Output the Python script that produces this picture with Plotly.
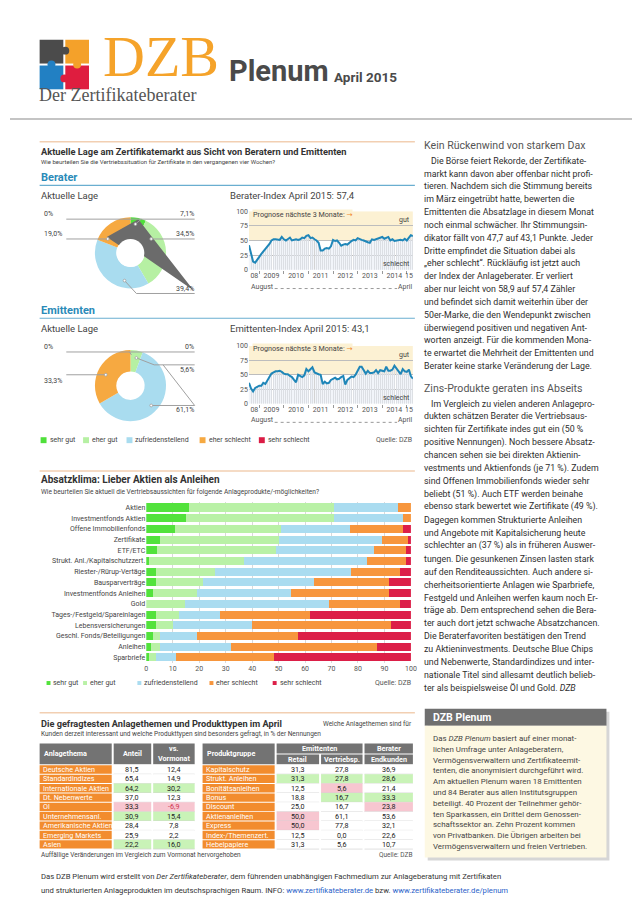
import plotly.graph_objects as go
import pandas as pd

W, H = 640, 906
SANS = "Roboto, 'Open Sans', 'DejaVu Sans', sans-serif"
SERIF = "'Liberation Serif', 'DejaVu Serif', serif"

# ---------------- data ----------------
lage_labels = ["sehr gut", "eher gut", "zufriedenstellend", "eher schlecht", "sehr schlecht"]
lage_colors = ["#4fe03a", "#b6f0a3", "#a9dcef", "#f6a941", "#db1c45"]
berater_lage = [7.1, 34.5, 39.4, 19.0, 0.0]
emittenten_lage = [0.0, 5.6, 61.1, 33.3, 0.0]

index_months = pd.date_range("2008-08-01", "2015-04-01", freq="MS")
berater_index = [42, 28, 14, 12, 16,
                 22, 27, 31, 35, 38, 44, 50, 52, 52, 52, 51, 56,
                 52, 50, 53, 55, 50, 51, 52, 51, 52, 55, 54, 58,
                 59, 54, 55, 52, 50, 46, 33, 33, 36, 37, 36, 40,
                 51, 49, 50, 46, 41, 43, 44, 43, 47, 49, 51, 50,
                 54, 52, 51, 50, 48, 47, 46, 52, 51, 52, 53, 54,
                 56, 53, 55, 56, 50, 52, 49, 50, 50, 51, 50, 53,
                 50, 55, 58.9, 57.4]
emittenten_index = [36, 26, 21, 27, 29,
                    31, 31, 36, 34, 40, 47, 52, 54, 56, 56, 57, 55,
                    52, 51, 51, 48, 46, 41, 37, 50, 48, 46, 49, 60,
                    56, 60, 63, 54, 52, 51, 50, 34, 38, 35, 36, 41,
                    43, 45, 42, 43, 46, 48, 33, 41, 44, 47, 46, 50,
                    57, 64, 64, 57, 52, 57, 53, 53, 54, 58, 53, 58,
                    57, 56, 64, 57, 57, 59, 66, 60, 56, 51, 60, 56,
                    55, 59, 47.7, 43.1]
year_tick_dates = ["2008-10-20", "2009-07-01", "2010-07-01", "2011-07-01",
                   "2012-07-01", "2013-07-01", "2014-07-01", "2015-02-01"]
year_tick_labels = ["08", "2009", "2010", "2011", "2012", "2013", "2014", "15"]
year_bounds = ["2009-01-01", "2010-01-01", "2011-01-01", "2012-01-01",
               "2013-01-01", "2014-01-01", "2015-01-01"]

absatz_kategorien = ["Aktien", "Investmentfonds Aktien", "Offene Immobilienfonds", "Zertifikate",
                     "ETF/ETC", "Strukt. Anl./Kapitalschutzzert.", "Riester-/Rürup-Vertäge",
                     "Bausparverträge", "Investmentfonds Anleihen", "Gold",
                     "Tages-/Festgeld/Spareinlagen", "Lebensversicherungen",
                     "Geschl. Fonds/Beteiligungen", "Anleihen", "Sparbriefe"]
absatz_sehr_gut = [16, 15, 11, 5, 4, 1.2, 3.7, 3.7, 2.5, 0.0, 3.7, 3.7, 2.5, 1.6, 1.0]
absatz_eher_gut = [55, 56, 40, 45, 45, 35.8, 22.1, 17.7, 16.5, 14.5, 8.5, 6.5, 2.8, 3.7, 2.7]
absatz_zufrieden = [24, 26, 26, 39, 37, 46.4, 51.5, 42.0, 35.7, 54.5, 15.8, 29.6, 13.7, 26.6, 7.5]
absatz_eher_schlecht = [5, 3, 20, 10, 12, 14.9, 18.7, 28.5, 37.2, 27.0, 33.9, 52.5, 38.5, 55.3, 36.9]
absatz_sehr_schlecht = [0, 0, 3, 1, 2, 1.7, 4.0, 8.1, 8.1, 4.0, 38.1, 7.7, 42.5, 12.8, 51.9]
bar_colors = ["#52e23c", "#b9f1a6", "#aadcf0", "#f7963d", "#dc1f48"]

themen = ["Deutsche Aktien", "Standardindizes", "Internationale Aktien", "Dt. Nebenwerte", "Öl",
          "Unternehmensanl.", "Amerikanische Aktien", "Emerging Markets", "Asien"]
themen_anteil = [81.5, 65.4, 64.2, 37.0, 33.3, 30.9, 28.4, 25.9, 22.2]
themen_vs_vormonat = [12.4, 14.9, 30.2, 12.3, -6.9, 15.4, 7.8, 2.2, 16.0]
themen_auffaellig = [0, 0, 1, 0, -1, 1, 0, 0, 1]

produkte = ["Kapitalschutz", "Strukt. Anleihen", "Bonitätsanleihen", "Bonus", "Discount",
            "Aktienanleihen", "Express", "Index-/Themenzert.", "Hebelpapiere"]
emi_retail = [31.3, 31.3, 12.5, 18.8, 25.0, 50.0, 50.0, 12.5, 31.3]
emi_vertrieb = [27.8, 27.8, 5.6, 16.7, 16.7, 61.1, 77.8, 0.0, 5.6]
ber_endkunden = [36.9, 28.6, 21.4, 33.3, 23.8, 53.6, 32.1, 22.6, 10.7]
retail_auffaellig = [0, 1, 0, 0, 0, -1, -1, 0, 0]
vertrieb_auffaellig = [0, 1, -1, 1, 0, 0, 0, 0, 0]
endkunden_auffaellig = [0, 1, 0, 1, -1, 0, 0, 0, 0]

heading1 = "Kein Rückenwind von starkem Dax"
para1 = [
    "Die Börse feiert Rekorde, der Zertifikate-",
    "markt kann davon aber offenbar nicht profi-",
    "tieren. Nachdem sich die Stimmung bereits",
    "im März eingetrübt hatte, bewerten die",
    "Emittenten die Absatzlage in diesem Monat",
    "noch einmal schwächer. Ihr Stimmungsin-",
    "dikator fällt von 47,7 auf 43,1 Punkte. Jeder",
    "Dritte empfindet die Situation dabei als",
    "„eher schlecht“. Rückläufig ist jetzt auch",
    "der Index der Anlageberater. Er verliert",
    "aber nur leicht von 58,9 auf 57,4 Zähler",
    "und befindet sich damit weiterhin über der",
    "50er-Marke, die den Wendepunkt zwischen",
    "überwiegend positiven und negativen Ant-",
    "worten anzeigt. Für die kommenden Mona-",
    "te erwartet die Mehrheit der Emittenten und",
    "Berater keine starke Veränderung der Lage.",
]
heading2 = "Zins-Produkte geraten ins Abseits"
para2 = [
    "Im Vergleich zu vielen anderen Anlagepro-",
    "dukten schätzen Berater die Vertriebsaus-",
    "sichten für Zertifikate indes gut ein (50 %",
    "positive Nennungen). Noch bessere Absatz-",
    "chancen sehen sie bei direkten Aktienin-",
    "vestments und Aktienfonds (je 71 %). Zudem",
    "sind Offenen Immobilienfonds wieder sehr",
    "beliebt (51 %). Auch ETF werden beinahe",
    "ebenso stark bewertet wie Zertifikate (49 %).",
    "Dagegen kommen Strukturierte Anleihen",
    "und Angebote mit Kapitalsicherung heute",
    "schlechter an (37 %) als in früheren Auswer-",
    "tungen. Die gesunkenen Zinsen lasten stark",
    "auf den Renditeaussichten. Auch andere si-",
    "cherheitsorientierte Anlagen wie Sparbriefe,",
    "Festgeld und Anleihen werfen kaum noch Er-",
    "träge ab. Dem entsprechend sehen die Bera-",
    "ter auch dort jetzt schwache Absatzchancen.",
    "Die Beraterfavoriten bestätigen den Trend",
    "zu Aktieninvestments. Deutsche Blue Chips",
    "und Nebenwerte, Standardindizes und inter-",
    "nationale Titel sind allesamt deutlich belieb-",
    "ter als beispielsweise Öl und Gold. <i>DZB</i>",
]
box_title = "DZB Plenum"
box_lines = [
    "Das <i>DZB Plenum</i> basiert auf einer monat-",
    "lichen Umfrage unter Anlageberatern,",
    "Vermögensverwaltern und Zertifikateemit-",
    "tenten, die anonymisiert durchgeführt wird.",
    "Am aktuellen Plenum waren 18 Emittenten",
    "und 84 Berater aus allen Institutsgruppen",
    "beteiligt. 40 Prozent der Teilnehmer gehör-",
    "ten Sparkassen, ein Drittel dem Genossen-",
    "schaftssektor an. Zehn Prozent kommen",
    "von Privatbanken. Die Übrigen arbeiten bei",
    "Vermögensverwaltern und freien Vertrieben.",
]
footer1 = ("Das DZB Plenum wird erstellt von <i>Der Zertifikateberater</i>, dem führenden "
           "unabhängigen Fachmedium zur Anlageberatung mit Zertifikaten")
footer2 = ("und strukturierten Anlageprodukten im deutschsprachigen Raum. INFO: "
           "<span style='color:#2a62c9'>www.zertifikateberater.de</span> bzw. "
           "<span style='color:#2a62c9'>www.zertifikateberater.de/plenum</span>")

# ---------------- helpers ----------------
def px(x):
    return x / W


def py(y):
    return 1 - y / H


def fmt(v):
    return f"{v:.1f}".replace(".", ",")


def fmt_pct(v):
    return "0%" if v == 0 else fmt(v) + "%"


ann = []
shapes = []


def T(x, y, s, size=8, color="#333", anchor="left", family=SANS, bg=None):
    d = dict(x=px(x), y=py(y), xref="paper", yref="paper", text=s, showarrow=False,
             xanchor=anchor, yanchor="middle", borderpad=0,
             font=dict(size=size, color=color, family=family))
    if bg:
        d["bgcolor"] = bg
    ann.append(d)


def L(x0, y0, x1, y1, color="#9a9a9a", w=1, dash=None):
    ln = dict(color=color, width=w)
    if dash:
        ln["dash"] = dash
    shapes.append(dict(type="line", xref="paper", yref="paper", x0=px(x0), y0=py(y0),
                       x1=px(x1), y1=py(y1), line=ln))


def R(x0, y0, x1, y1, fill, line_w=0, line_c=None, layer="above"):
    shapes.append(dict(type="rect", xref="paper", yref="paper", x0=px(x0), y0=py(y1),
                       x1=px(x1), y1=py(y0), fillcolor=fill, layer=layer,
                       line=dict(width=line_w, color=line_c or fill)))


def C(cx, cy, r, fill, line_c=None, line_w=0):
    shapes.append(dict(type="circle", xref="paper", yref="paper", x0=px(cx - r), x1=px(cx + r),
                       y0=py(cy + r), y1=py(cy - r), fillcolor=fill,
                       line=dict(width=line_w, color=line_c or fill)))


def P(points, fill):
    path = "M " + " L ".join(f"{px(x)},{py(y)}" for x, y in points) + " Z"
    shapes.append(dict(type="path", xref="paper", yref="paper", path=path, fillcolor=fill,
                       line=dict(width=0)))


fig = go.Figure()

# ---------------- header ----------------
R(30, 28, 54, 52, "#4b4b4b")
R(56, 28, 80, 52, "#f4a12a")
R(30, 54, 54, 78, "#2280c3")
R(56, 54, 80, 78, "#df1d3f")
C(56, 39, 4, "#4b4b4b")
C(42, 53, 4, "#2280c3")
C(68, 53, 4, "#f4a12a")
C(55, 67, 4, "#df1d3f")
T(93, 45, "DZB", size=58, color="#f5a32a", family=SERIF)
T(221, 60, "<b>Plenum</b>", size=29, color="#4a4a4a")
T(327, 66, "<b>April 2015</b>", size=13.5, color="#4a4a4a")
T(28, 84, "Der Zertifikateberater", size=18, color="#555", family=SERIF)
L(0, 108, 640, 108, color="#c4c4c4", w=2)

# ---------------- section 1 ----------------
L(30, 131, 410, 131, color="#f2cfb2", w=1.5)
T(30, 141, "<b>Aktuelle Lage am Zertifikatemarkt aus Sicht von Beratern und Emittenten</b>",
  size=9.3, color="#333")
T(30, 151, "Wie beurteilen Sie die Vertriebssituation für Zertifikate in den vergangenen vier Wochen?",
  size=6, color="#444")
for title, ytitle, yline, ysub, idx_name, idx_vals in [
        ("Berater", 167, 175, 185, "Berater-Index April 2015: ", berater_index),
        ("Emittenten", 301, 309, 319, "Emittenten-Index April 2015: ", emittenten_index)]:
    T(30, ytitle, f"<b>{title}</b>", size=11, color="#2a8ab8")
    L(30, yline, 410, yline, color="#6aaed0", w=1.2)
    T(30, ysub, "Aktuelle Lage", size=9.5, color="#444")
    T(222, ysub, idx_name + fmt(idx_vals[-1]), size=9.5, color="#444")

# pies
pie_specs = [
    (berater_lage, (86, 158, 207, 279)),
    (emittenten_lage, (86, 158, 341, 413)),
]
for vals, (x0, x1, y0, y1) in pie_specs:
    fig.add_trace(go.Pie(labels=lage_labels, values=vals, hole=0.4, sort=False,
                         direction="clockwise", rotation=0,
                         marker=dict(colors=lage_colors, line=dict(width=0)),
                         textinfo="none", hoverinfo="label+percent", showlegend=False,
                         domain=dict(x=[px(x0), px(x1)], y=[py(y1), py(y0)])))

# grey wedge artefact + hole (Berater)
P([(98, 227), (130, 209), (143, 226), (186, 281), (135, 246), (110, 235)], "#6b6b6b")
C(122, 243, 14, "white")

LC = "#a0a0a0"
# Berater leader lines & labels
L(57, 209, 187, 209, LC)
L(127, 214, 133, 209, LC)
C(127, 214, 1.4, "white", LC, 0.8)
L(57, 229, 99, 229, LC)
C(99, 229, 1.4, "white", LC, 0.8)
L(143, 229, 187, 229, LC)
C(143, 229, 1.4, "white", LC, 0.8)
L(116, 271, 128, 284, LC)
L(128, 284, 187, 284, LC)
C(116, 271, 1.4, "white", LC, 0.8)
T(33, 204, fmt_pct(berater_lage[4]), 7, "#444")
T(187, 204, fmt_pct(berater_lage[0]), 7, "#444", "right")
T(33, 224, fmt_pct(berater_lage[3]), 7, "#444")
T(187, 224, fmt_pct(berater_lage[1]), 7, "#444", "right")
T(187, 279, fmt_pct(berater_lage[2]), 7, "#444", "right")

# Emittenten leader lines & labels
L(57, 343, 187, 343, LC)
L(121, 343, 123, 346, LC)
L(128, 349, 146, 356, LC)
L(146, 356, 187, 356, LC)
C(128, 349, 1.4, "white", LC, 0.8)
L(57, 366, 97, 366, LC)
C(97, 366, 1.4, "white", LC, 0.8)
L(143, 397, 187, 397, LC)
C(143, 397, 1.4, "white", LC, 0.8)
L(155, 356, 187, 397, LC)
T(33, 338, fmt_pct(emittenten_lage[4]), 7, "#444")
T(187, 338, fmt_pct(emittenten_lage[0]), 7, "#444", "right")
T(187, 361, fmt_pct(emittenten_lage[1]), 7, "#444", "right")
T(33, 372, fmt_pct(emittenten_lage[3]), 7, "#444")
T(187, 402, fmt_pct(emittenten_lage[2]), 7, "#444", "right")

# index line charts
CREAM = "#fcf1d3"
for i, (vals, ytop, ybot) in enumerate([(berater_index, 201, 260), (emittenten_index, 337, 395)]):
    xa = "x" if i == 0 else "x2"
    ya = "y" if i == 0 else "y2"
    shapes.append(dict(type="rect", xref=xa, yref=ya, x0=str(index_months[0].date()),
                       x1=str(index_months[-1].date()), y0=50, y1=100, fillcolor=CREAM,
                       layer="below", line=dict(width=0)))
    fig.add_trace(go.Bar(x=index_months, y=vals, width=15 * 86400000, marker=dict(color="#d3d3d3"),
                         xaxis=xa, yaxis=ya, showlegend=False, hoverinfo="skip"))
    fig.add_trace(go.Scatter(x=index_months, y=vals, mode="lines", line=dict(color="#1f86b8", width=2),
                             xaxis=xa, yaxis=ya, showlegend=False))
    T(245, ytop + 3, "Prognose nächste 3 Monate: <span style='color:#f08a30'>→</span>", 7.2, "#444",
      bg=CREAM)
    T(406, ytop + 9, "gut", 7, "#444", "right")
    T(406, ybot - 6, "schlecht", 7, "#444", "right")
    yA = ybot + 17
    T(243, yA, "August", 7, "#555")
    L(268, yA + 2, 392, yA + 2, color="#999", w=1, dash="dot")
    T(409, yA, "April", 7, "#555", "right")

# legend (pies)
for c, x, lab, tx in zip(lage_colors, [31, 74, 118, 192, 252], lage_labels, [39, 82, 126, 200, 260]):
    R(x, 429, x + 6, 435, c)
    T(tx, 432, lab, 7, "#444")
T(408, 432, "Quelle: DZB", 7, "#555", "right")

# ---------------- section 2: Absatzklima ----------------
L(30, 463, 410, 463, color="#f2cfb2", w=1.5)
T(30, 472, "<b>Absatzklima: Lieber Aktien als Anleihen</b>", 10, "#333")
T(30, 484, "Wie beurteilen Sie aktuell die Vertriebsaussichten für folgende Anlageprodukte/-möglichkeiten?",
  6.6, "#444")
for vals, lab, col in zip([absatz_sehr_gut, absatz_eher_gut, absatz_zufrieden,
                           absatz_eher_schlecht, absatz_sehr_schlecht], lage_labels, bar_colors):
    fig.add_trace(go.Bar(x=vals, y=absatz_kategorien, orientation="h", name=lab,
                         marker=dict(color=col, line=dict(width=0)), xaxis="x3", yaxis="y3",
                         showlegend=False))
for c, x, lab, tx in zip(bar_colors, [37, 74, 129, 202, 266], lage_labels, [43, 80, 135, 208, 272]):
    R(x, 675, x + 4, 679, c)
    T(tx, 677, lab, 7, "#444")
T(407, 677, "Quelle: DZB", 7, "#555", "right")

# ---------------- section 3: tables ----------------
L(30, 707, 410, 707, color="#f2cfb2", w=1.5)
T(30, 718, "<b>Die gefragtesten Anlagethemen und Produkttypen im April</b>", 9.2, "#333")
T(408, 718.5, "Welche Anlagethemen sind für", 6.5, "#444", "right")
T(30, 728, "Kunden derzeit interessant und welche Produkttypen sind besonders gefragt, in % der Nennungen",
  6.5, "#444")

HEAD = "#737373"
ORANGE = "#f28c2e"
GREEN = "#c9f3b7"
PINK = "#f7c6d0"
ROW0, ROWH = 759.5, 9.45
TFS = 7.2


def fill_of(f):
    return GREEN if f > 0 else PINK if f < 0 else "white"


def draw_table(cols, first_col, value_cols, flag_cols, font_cols):
    for i in range(len(first_col)):
        y0 = ROW0 + i * ROWH
        y1 = y0 + ROWH
        cx0, cx1 = cols[0]
        R(cx0, y0 + 0.5, cx1, y1 - 0.5, ORANGE)
        T(cx0 + 2, (y0 + y1) / 2, first_col[i], TFS, "white")
        for (x0, x1), vals, flags, fcol in zip(cols[1:], value_cols, flag_cols, font_cols):
            R(x0, y0, x1, y1, fill_of(flags[i]))
            L(x0, y1, x1, y1, color="#d2d2d2", w=0.7)
            T((x0 + x1) / 2, (y0 + y1) / 2, fmt(vals[i]), TFS, fcol[i], "center")


# left table
lcols = [(30, 103), (105, 143), (145, 187)]
R(30, 738, 103, 759, HEAD)
R(105, 738, 143, 759, HEAD)
R(145, 738, 187, 759, HEAD)
T(33, 748.5, "<b>Anlagethema</b>", TFS, "white")
T(124, 748.5, "<b>Anteil</b>", TFS, "white", "center")
T(166, 743.5, "<b>vs.</b>", TFS, "white", "center")
T(166, 753.5, "<b>Vormonat</b>", TFS, "white", "center")
draw_table(lcols, themen, [themen_anteil, themen_vs_vormonat],
           [themen_auffaellig, themen_auffaellig],
           [["#222"] * len(themen), ["#d0344f" if v < 0 else "#222" for v in themen_vs_vormonat]])

# right table
rcols = [(195, 268), (270, 313), (315, 357), (359, 408)]
R(195, 738, 268, 759, HEAD)
R(270, 738, 357, 748, HEAD)
R(359, 738, 408, 748, HEAD)
for x0, x1 in rcols[1:]:
    R(x0, 749, x1, 759, HEAD)
T(198, 748.5, "<b>Produktgruppe</b>", TFS, "white")
T(313.5, 743.3, "<b>Emittenten</b>", TFS, "white", "center")
T(383.5, 743.3, "<b>Berater</b>", TFS, "white", "center")
T(291.5, 754, "<b>Retail</b>", TFS, "white", "center")
T(336, 754, "<b>Vertriebsp.</b>", TFS, "white", "center")
T(383.5, 754, "<b>Endkunden</b>", TFS, "white", "center")
draw_table(rcols, produkte, [emi_retail, emi_vertrieb, ber_endkunden],
           [retail_auffaellig, vertrieb_auffaellig, endkunden_auffaellig],
           [["#222"] * len(produkte)] * 3)

T(30, 851, "Auffällige Veränderungen im Vergleich zum Vormonat hervorgehoben", 6.5, "#444")
T(408, 851, "Quelle: DZB", 6.5, "#555", "right")

# footer
T(30, 872, footer1, 7.7, "#333")
T(30, 886, footer2, 7.7, "#333")

# ---------------- right column ----------------
T(418, 135, heading1, 10.6, "#555")
for k, line in enumerate(para1):
    T(425 if k == 0 else 418, 150 + k * 12.95, line, 8.8, "#2e2e2e")
T(418, 380, heading2, 10.6, "#555")
for k, line in enumerate(para2):
    T(425 if k == 0 else 418, 395 + k * 13.05, line, 8.8, "#2e2e2e")

R(423, 706, 607, 856, "#d6d6d6")
R(420, 703, 604, 720, "#6f6f6f")
R(420, 720, 604, 853, "#fdf8e3")
T(427, 711.5, f"<b>{box_title}</b>", 10.5, "white")
for k, line in enumerate(box_lines):
    T(427, 733 + k * 10.9, line, 7.9, "#444")

# ---------------- layout ----------------
xcommon = dict(type="date", range=[str(index_months[0].date()), str(index_months[-1].date())],
               showgrid=False, zeroline=False, showline=False, tickmode="array",
               tickvals=year_tick_dates, ticktext=year_tick_labels, ticks="",
               tickfont=dict(size=7, color="#555", family=SANS),
               minor=dict(tickmode="array", tickvals=year_bounds, ticks="outside", ticklen=3,
                          tickcolor="#999", showgrid=False),
               fixedrange=True)
ycommon = dict(range=[0, 100], tickmode="array", tickvals=[0, 25, 50, 75, 100], showgrid=True,
               gridcolor="#bdbdbd", gridwidth=0.8, zeroline=False, ticks="",
               tickfont=dict(size=7, color="#555", family=SANS), fixedrange=True)

fig.update_layout(
    width=W, height=H, margin=dict(l=0, r=0, t=0, b=0),
    paper_bgcolor="white", plot_bgcolor="white", showlegend=False,
    barmode="stack", bargap=0.25,
    xaxis=dict(domain=[px(242), px(408)], anchor="y", **xcommon),
    yaxis=dict(domain=[py(260), py(201)], anchor="x", **ycommon),
    xaxis2=dict(domain=[px(242), px(408)], anchor="y2", **xcommon),
    yaxis2=dict(domain=[py(395), py(337)], anchor="x2", **ycommon),
    xaxis3=dict(domain=[px(138), px(406)], anchor="y3", range=[0, 100], dtick=10,
                showgrid=True, gridcolor="#d9d9d9", zeroline=False, ticks="",
                tickfont=dict(size=7, color="#555", family=SANS), fixedrange=True),
    yaxis3=dict(domain=[py(656.5), py(494.5)], anchor="x3", type="category",
                categoryorder="array", categoryarray=absatz_kategorien, autorange="reversed",
                ticks="", tickfont=dict(size=7, color="#444", family=SANS), fixedrange=True),
    annotations=ann, shapes=shapes,
    font=dict(family=SANS),
)

fig.write_html("out.html")
